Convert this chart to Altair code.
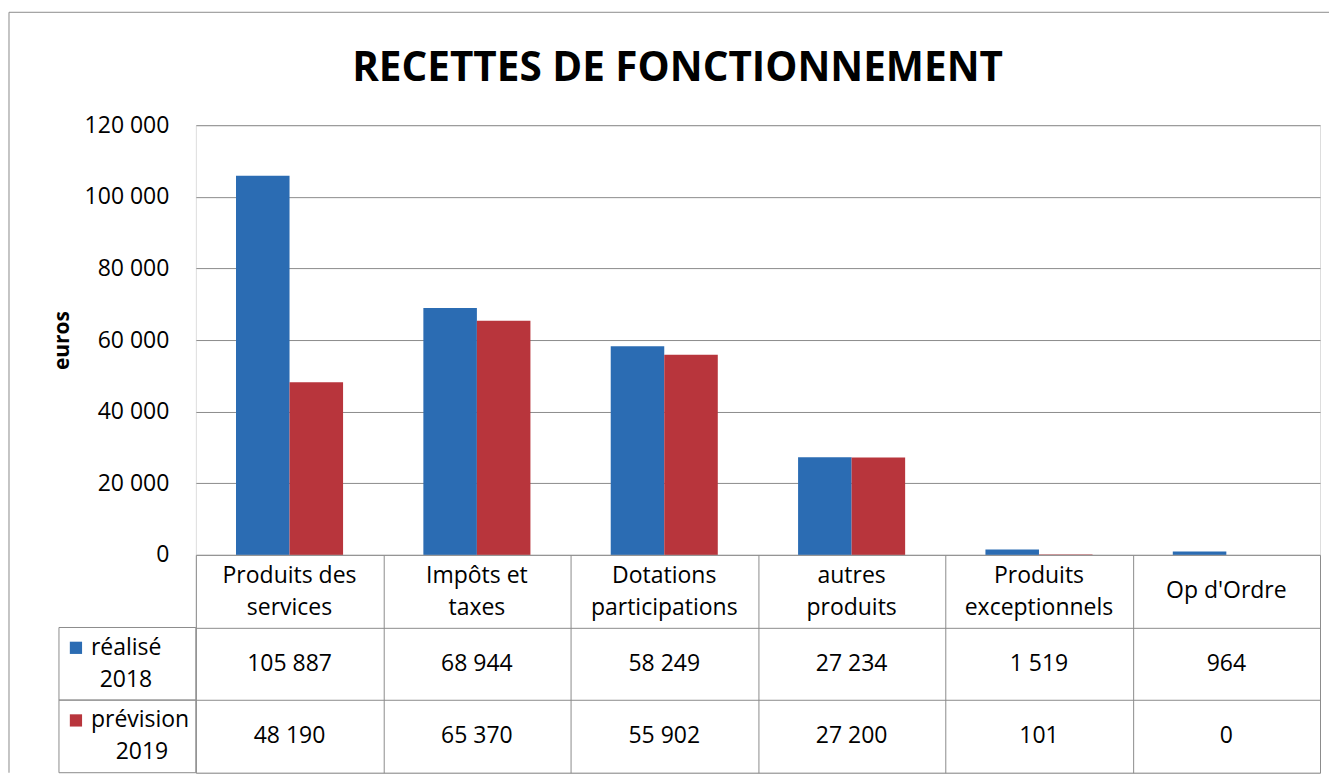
import altair as alt
import pandas as pd

# ---------------- data ----------------
categories = ["Produits des services", "Impôts et taxes", "Dotations participations",
              "autres produits", "Produits exceptionnels", "Op d'Ordre"]
category_line1 = ["Produits des", "Impôts et", "Dotations", "autres", "Produits", ""]
category_line2 = ["services", "taxes", "participations", "produits", "exceptionnels", ""]
category_single = ["", "", "", "", "", "Op d'Ordre"]
series = ["réalisé 2018", "prévision 2019"]
series_line1 = ["réalisé", "prévision"]
series_line2 = ["2018", "2019"]
realise_2018 = [105887, 68944, 58249, 27234, 1519, 964]
prevision_2019 = [48190, 65370, 55902, 27200, 101, 0]
y_ticks = [0, 20000, 40000, 60000, 80000, 100000, 120000]
title_text = "RECETTES DE FONCTIONNEMENT"
y_title = "euros"

# ---------------- styles ----------------
FONT = "Open Sans"
COLORS = ["#2b6cb3", "#b8353c"]
LINE = "#8c8c8c"
rows = ["header"] + series
TABLE_H = 218

values_by_series = {series[0]: realise_2018, series[1]: prevision_2019}


def fmt(v):
    return f"{v:,}".replace(",", " ")


bar_df = pd.DataFrame([
    {"category": c, "series": s, "value": values_by_series[s][i]}
    for s in series for i, c in enumerate(categories)
])
value_df = pd.DataFrame([
    {"category": c, "row": s, "series": s, "label": fmt(values_by_series[s][i])}
    for s in series for i, c in enumerate(categories)
])
header_df = pd.DataFrame([
    {"category": c, "row": "header", "l1": category_line1[i], "l2": category_line2[i],
     "single": category_single[i]}
    for i, c in enumerate(categories)
])
series_df = pd.DataFrame([
    {"row": s, "series": s, "line1": series_line1[j], "line2": series_line2[j]}
    for j, s in enumerate(series)
])
one_df = pd.DataFrame({"k": [0]})

color_enc = alt.Color("series:N", scale=alt.Scale(domain=series, range=COLORS), legend=None)
x_scale = alt.Scale(domain=categories, paddingInner=0, paddingOuter=0)

# ---------------- bar chart ----------------
bars = alt.Chart(bar_df).mark_bar().encode(
    x=alt.X("category:N", sort=categories, scale=x_scale, axis=None),
    xOffset=alt.XOffset("series:N", sort=series,
                        scale=alt.Scale(domain=series, paddingInner=0, paddingOuter=0.75)),
    y=alt.Y("value:Q", scale=alt.Scale(domain=[0, 120000], nice=False),
            axis=alt.Axis(values=y_ticks, title=y_title, grid=True, gridColor=LINE, gridWidth=1,
                          ticks=False, domain=False, labelFont=FONT, labelFontSize=23,
                          labelColor="black", labelPadding=27,
                          labelExpr="replace(format(datum.value, ','), ',', ' ')",
                          titleFont=FONT, titleFontSize=21, titleFontWeight="bold",
                          titleColor="black", titlePadding=12)),
    color=color_enc,
).properties(
    width=1125, height=430,
    title=alt.TitleParams(title_text, font=FONT, fontSize=40.5, fontWeight="bold",
                          anchor="middle", frame="bounds", offset=25, dx=-8, color="black"),
)

# ---------------- data table ----------------
X = alt.X("category:N", sort=categories, scale=x_scale,
          axis=alt.Axis(grid=True, tickBand="extent", gridColor=LINE, gridWidth=1,
                        labels=False, ticks=False, domain=False, title=None))
y_scale = alt.Scale(domain=rows, paddingInner=0, paddingOuter=0)
y_axis = alt.Axis(grid=True, tickBand="extent", gridColor=LINE, gridWidth=1,
                  labels=False, ticks=False, domain=False, title=None)


def Yb(bp):
    return alt.Y("row:N", sort=rows, scale=y_scale, axis=y_axis, bandPosition=bp)


def txt(align="center"):
    return dict(font=FONT, fontSize=23, baseline="middle", align=align, color="black")


header_l1 = alt.Chart(header_df).mark_text(**txt()).encode(x=X, y=Yb(0.29), text="l1:N")
header_l2 = alt.Chart(header_df).mark_text(**txt()).encode(x=X, y=Yb(0.735), text="l2:N")
header_single = alt.Chart(header_df).mark_text(**txt()).encode(x=X, y=Yb(0.5), text="single:N")

value_text = alt.Chart(value_df).mark_text(**txt()).encode(x=X, y=Yb(0.5), text="label:N")

row_box = alt.Chart(series_df).mark_rect(fill="white", fillOpacity=0, stroke=LINE, strokeWidth=1).encode(
    x=alt.value(-137), x2=alt.value(0), y=alt.Y("row:N", sort=rows, scale=y_scale, axis=y_axis)
)

squares = alt.Chart(series_df).mark_point(shape="square", filled=True, size=150, opacity=1).encode(
    x=alt.value(-120), y=Yb(0.28), color=color_enc,
)

line1 = alt.Chart(series_df).mark_text(**txt("left")).encode(
    x=alt.value(-105), y=Yb(0.28), text="line1:N",
)

line2_a = alt.Chart(series_df).transform_filter(alt.datum.row == series[0]).mark_text(**txt()).encode(
    x=alt.value(-70), y=Yb(0.72), text="line2:N",
)
line2_b = alt.Chart(series_df).transform_filter(alt.datum.row == series[1]).mark_text(**txt()).encode(
    x=alt.value(-54), y=Yb(0.72), text="line2:N",
)

# outer chart-area frame (left and top edges)
frame_left = alt.Chart(one_df).mark_rule(color=LINE, strokeWidth=1).encode(
    x=alt.value(-187), y=alt.value(-543), y2=alt.value(TABLE_H)
)
frame_top = alt.Chart(one_df).mark_rule(color=LINE, strokeWidth=1).encode(
    x=alt.value(-187), x2=alt.value(1134), y=alt.value(-543)
)

table = alt.layer(
    header_l1, header_l2, header_single, value_text, row_box, squares, line1,
    line2_a, line2_b, frame_left, frame_top
).properties(width=1125, height=TABLE_H)

chart = alt.vconcat(bars, table, spacing=0, bounds="flush").properties(
    padding={"left": 0, "top": 3, "right": 0, "bottom": 0}
).configure_view(stroke=LINE, strokeWidth=1).configure(background="white")

chart.save("out.html", embed_options={"renderer": "svg", "actions": False})
